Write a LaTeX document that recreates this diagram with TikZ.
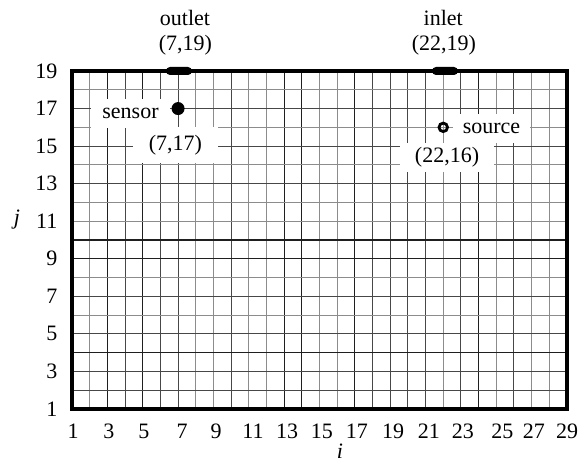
\documentclass[tikz,border=0pt]{standalone}
\usepackage{fontspec}
\setmainfont{Liberation Serif}
\newcommand\mylblfont{\fontsize{22}{26}\selectfont}
\begin{document}
\begin{tikzpicture}[x=17.679pt,y=18.778pt,
  gk/.style={black!88,line width=1.1pt},
  gd/.style={black!72,line width=1.05pt},
  gg/.style={black!45,line width=1.05pt},
  frame/.style={line width=3.6pt},
  lbl/.style={font=\mylblfont,inner sep=0pt},
  patch/.style={lbl,fill=white},
  port/.style={fill=black,rounded corners=4pt,minimum width=26pt,minimum height=8pt,inner sep=0pt},
  dotmark/.style={circle,fill=black,minimum size=13pt,inner sep=0pt},
  ringmark/.style={circle,draw=black,line width=2.8pt,minimum size=8.5pt,inner sep=0pt}]
\useasboundingbox (-3.0727,-1.875) rectangle (29.905,22.781);
% grid
\foreach \i/\s in {2/gg,3/gk,4/gd,5/gk,6/gd,7/gd,8/gg,9/gg,10/gd,11/gg,12/gg,13/gk,14/gk,15/gg,16/gg,17/gk,18/gd,19/gd,20/gd,21/gd,22/gg,23/gd,24/gk,25/gg,26/gd,27/gg,28/gg}
  \draw[\s] (\i,1) -- (\i,19);
\foreach \j/\s in {2/gd,3/gd,4/gk,5/gd,6/gg,7/gd,8/gg,9/gk,10/gk,11/gg,12/gg,13/gd,14/gg,15/gd,16/gg,17/gd,18/gg}
  \draw[\s] (1,\j) -- (29,\j);
\draw[frame] (1,1) rectangle (29,19);
% ports
\node[port] (outlet) at (7.05,19) {};
\node[port] (inlet) at (22.1,19) {};
\node[lbl] (outletname) at (7.393,21.849) {outlet};
\node[lbl] (outletpos) at (7.42,20.385) {(7,19)};
\node[lbl] (inletname) at (22.0,21.849) {inlet};
\node[lbl] (inletpos) at (22.04,20.385) {(22,19)};
% labels with white patches
\node[patch,minimum width=79pt,minimum height=29pt] (sensorname) at (4.309,16.737) {sensor};
\node[patch,minimum width=85pt,minimum height=36pt] (sensorpos) at (6.854,15.059) {(7,17)};
\node[patch,minimum width=77pt,minimum height=29pt] (sourcename) at (24.729,15.938) {source};
\node[patch,minimum width=94pt,minimum height=29pt] (sourcepos) at (22.212,14.394) {(22,16)};
% markers
\node[dotmark] (sensor) at (7,17) {};
\node[ringmark] (source) at (22,16) {};
% ticks
\foreach \n/\dx in {1/0.06,3/0.09,5/0.07,7/0.23,9/0.15,11/0.24,13/0.17,15/0.14,17/0.11,19/0.17,21/0.19,23/0.11,25/0.34,27/0.13,29/0}
  \node[lbl] (xt\n) at (\n+\dx,-0.17) {\n};
\foreach \n in {1,3,...,19}
  \node[lbl,anchor=east] (yt\n) at (0.18,\n) {\n};
\node[lbl] (jlabel) at (-2.111,11.092) {\textit{j}};
\node[lbl] (ilabel) at (16.16,-1.27) {\textit{i}};
\end{tikzpicture}
\end{document}
